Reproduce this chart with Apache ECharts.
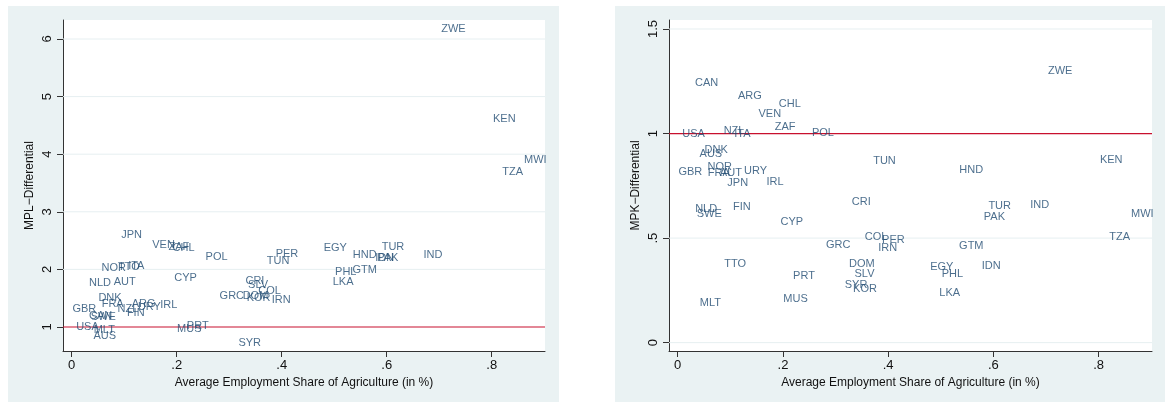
<!DOCTYPE html>
<html>
<head>
<meta charset="utf-8">
<script src="https://cdn.jsdelivr.net/npm/echarts@6/dist/echarts.min.js"></script>
<style>
html,body{margin:0;padding:0;background:#ffffff;}
#chart{width:1165px;height:402px;}
</style>
</head>
<body>
<div id="chart"></div>
<script>
// ---- data ----
const countries = ["USA","CAN","GBR","AUS","SWE","NLD","MLT","DNK","NOR","FRA","AUT","NZL","ITA","TTO","JPN","FIN","ARG","URY","VEN","IRL","ZAF","CHL","CYP","MUS","PRT","POL","GRC","SYR","DOM","CRI","SLV","KOR","COL","TUN","IRN","PER","EGY","LKA","PHL","GTM","HND","IDN","PAK","TUR","IND","ZWE","KEN","TZA","MWI"];
const agShare = [0.030,0.055,0.024,0.063,0.060,0.054,0.062,0.073,0.080,0.078,0.101,0.107,0.123,0.109,0.114,0.122,0.137,0.148,0.175,0.185,0.204,0.213,0.217,0.224,0.240,0.276,0.305,0.339,0.350,0.349,0.355,0.356,0.377,0.393,0.399,0.410,0.502,0.517,0.522,0.558,0.558,0.596,0.602,0.612,0.688,0.727,0.824,0.840,0.883];
const mplDiff = [0.995,1.19,1.31,0.84,1.18,1.77,0.94,1.50,2.02,1.40,1.79,1.32,2.06,2.05,2.60,1.24,1.40,1.34,2.42,1.38,2.39,2.37,1.85,0.965,1.02,2.21,1.54,0.72,1.53,1.80,1.73,1.50,1.625,2.15,1.47,2.27,2.38,1.79,1.96,1.99,2.25,2.20,2.20,2.39,2.25,6.17,4.61,3.69,3.90];
const mpkDiff = [0.997,1.241,0.814,0.901,0.616,0.638,0.190,0.920,0.841,0.810,0.812,1.012,1.000,0.378,0.765,0.650,1.182,0.820,1.095,0.770,1.031,1.143,0.576,0.211,0.320,1.005,0.468,0.278,0.376,0.673,0.330,0.259,0.503,0.868,0.452,0.489,0.362,0.238,0.330,0.463,0.825,0.365,0.603,0.654,0.659,1.297,0.873,0.505,0.616];
const xTicks = [0, 0.2, 0.4, 0.6, 0.8];
const yTicksMPL = [1, 2, 3, 4, 5, 6];
const yTicksMPK = [0, 0.5, 1, 1.5];
const xTitle = "Average Employment Share of Agriculture (in %)";
const yTitleMPL = "MPL\u2212Differential";
const yTitleMPK = "MPK\u2212Differential";
const refLine = 1;

// ---- styling ----
const FONT = "'Liberation Sans', Arial, sans-serif";
const BG = "#eaf2f3";
const LABEL = "#1f4a70";
const fmt = v => {
  let s = String(Math.round(v * 1000) / 1000);
  if (s.startsWith("0.")) s = s.slice(1);
  return s;
};

function xAxisDef(gi) {
  return {
    type: "value", gridIndex: gi, min: -0.0166, max: 0.9015,
    name: xTitle, nameLocation: "middle", nameGap: 25,
    nameTextStyle: { fontFamily: FONT, fontSize: 12, color: "#111" },
    axisLine: { show: true, onZero: false, lineStyle: { color: "#333", width: 1 } },
    axisTick: { show: true, length: 6, customValues: xTicks, lineStyle: { color: "#333" } },
    axisLabel: { customValues: xTicks, formatter: fmt, margin: 8, fontFamily: FONT, fontSize: 13, color: "#111" },
    splitLine: { show: false }
  };
}
function yAxisDef(gi, min, max, ticks, title) {
  return {
    type: "value", gridIndex: gi, min: min, max: max,
    name: title, nameLocation: "middle", nameGap: 27,
    nameTextStyle: { fontFamily: FONT, fontSize: 12, color: "#111" },
    axisLine: { show: true, onZero: false, lineStyle: { color: "#333", width: 1 } },
    axisTick: { show: true, length: 6, customValues: ticks, lineStyle: { color: "#333" } },
    axisLabel: { customValues: ticks, formatter: fmt, rotate: 90, margin: 9, fontFamily: FONT, fontSize: 13, color: "#111" },
    splitLine: { show: false }
  };
}
function refLineData(gi) {
  // horizontal reference line at MPL/MPK = 1, spanning the x range
  return [[-0.0166, refLine], [0.9015, refLine]];
}

const chart = echarts.init(document.getElementById("chart"), null, { renderer: "canvas" });
const series = [];
[[0, mplDiff, yTicksMPL], [1, mpkDiff, yTicksMPK]].forEach(([gi, ys, ticks]) => {
  // light horizontal gridlines at y ticks
  ticks.filter(t => t !== refLine).forEach(t => {
    series.push({
      type: "line", xAxisIndex: gi, yAxisIndex: gi, silent: true, symbol: "none",
      data: [[-0.0166, t], [0.9015, t]],
      lineStyle: { color: "#e6eff1", width: 1 }, z: 1
    });
  });
  series.push({
    type: "line", xAxisIndex: gi, yAxisIndex: gi, silent: true, symbol: "none",
    data: refLineData(gi),
    lineStyle: { color: "#c8102e", width: 1.2 }, z: 3
  });
  series.push({
    type: "scatter", xAxisIndex: gi, yAxisIndex: gi,
    data: countries.map((c, i) => ({ value: [agShare[i], ys[i]], name: c })),
    symbol: "circle", symbolSize: 1,
    itemStyle: { color: "rgba(0,0,0,0)" },
    label: { show: true, position: "inside", formatter: p => p.name, fontFamily: FONT, fontSize: 11, color: LABEL },
    emphasis: { disabled: true },
    z: 5
  });
});

chart.setOption({
  animation: false,
  backgroundColor: "#ffffff",
  graphic: [
    { type: "rect", shape: { x: 8, y: 6, width: 551, height: 396 }, style: { fill: BG }, z: -10, silent: true },
    { type: "rect", shape: { x: 615, y: 6, width: 550, height: 396 }, style: { fill: BG }, z: -10, silent: true }
  ],
  grid: [
    { left: 63, right: 620, top: 20, bottom: 51, show: true, backgroundColor: "#ffffff", borderWidth: 0 },
    { left: 669, right: 13, top: 20, bottom: 51, show: true, backgroundColor: "#ffffff", borderWidth: 0 }
  ],
  xAxis: [xAxisDef(0), xAxisDef(1)],
  yAxis: [
    yAxisDef(0, 0.583, 6.33, yTicksMPL, yTitleMPL),
    yAxisDef(1, -0.04, 1.543, yTicksMPK, yTitleMPK)
  ],
  series: series
});
</script>
</body>
</html>
